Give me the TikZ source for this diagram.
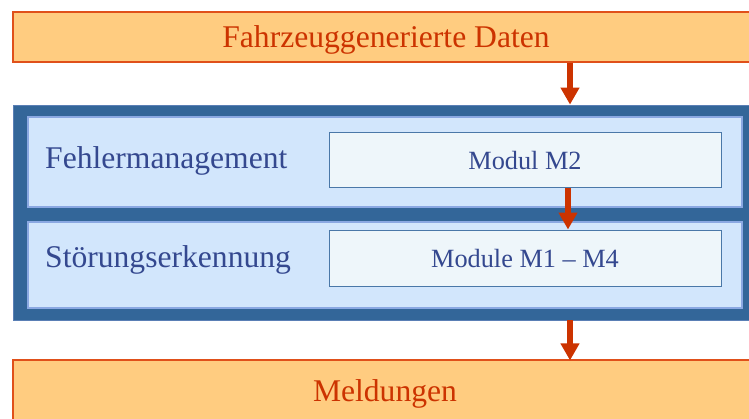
\documentclass[tikz,border=0pt]{standalone}
\usepackage{fontspec}
\setmainfont{Liberation Serif}
\usetikzlibrary{arrows.meta}
\definecolor{bandfill}{HTML}{FFCC80}
\definecolor{bandline}{HTML}{E0501A}
\definecolor{redtext}{HTML}{CC3300}
\definecolor{frameblue}{HTML}{336699}
\definecolor{frameedge}{HTML}{5A7FB5}
\definecolor{panelfill}{HTML}{D2E6FC}
\definecolor{paneledge}{HTML}{8AA8E2}
\definecolor{modfill}{HTML}{EEF6FA}
\definecolor{modedge}{HTML}{4A78A8}
\definecolor{bluetext}{HTML}{34488F}
\tikzset{
  band/.style={draw=bandline, line width=1.2pt, fill=bandfill, inner sep=0pt,
    minimum width=747pt, minimum height=#1},
  bandtext/.style={anchor=base, inner sep=0pt, text=redtext, font=\fontsize{31.6}{32}\selectfont},
  frame/.style={draw=frameedge, line width=0.8pt, fill=frameblue, inner sep=0pt,
    minimum width=747pt, minimum height=215pt},
  panel/.style={draw=paneledge, line width=1.5pt, fill=panelfill, inner sep=0pt,
    minimum width=714pt, minimum height=#1},
  modbox/.style={draw=modedge, line width=1pt, fill=modfill, inner sep=0pt,
    minimum width=392pt, minimum height=#1},
  modtext/.style={anchor=base, inner sep=0pt, text=bluetext, font=\fontsize{26.3}{27}\selectfont},
  layername/.style={anchor=base west, inner sep=0pt, text=bluetext, font=\fontsize{31.6}{32}\selectfont},
  flow/.style={draw=redtext, line width=6pt, -{Triangle[length=17pt,width=18pt]}}
}
\begin{document}
\begin{tikzpicture}[x=1pt, y=-1pt]
  \useasboundingbox (0,0) rectangle (749,418);
  \clip (0,0) rectangle (749,418);
  \fill[white] (0,0) rectangle (749,418);

  % input band
  \node[band=50pt] (input) at (386.5,37) {};
  \node[bandtext] (inlabel) at (386,47) {Fahrzeuggenerierte Daten};

  % processing frame with its two layers
  \node[frame] (frame) at (386.5,212.5) {};
  \node[panel=90pt] (fm) at (385,162) {};
  \node[panel=86pt] (se) at (385,265) {};
  \node[layername] (fmlabel) at (45,168) {Fehlermanagement};
  \node[layername] (selabel) at (45,267) {Störungserkennung};
  \node[modbox=55pt] (m2) at (525,159.5) {};
  \node[modbox=56pt] (m14) at (525,258) {};
  \node[modtext] (m2label) at (525,169) {Modul M2};
  \node[modtext] (m14label) at (525,267) {Module M1 – M4};

  % output band
  \node[band=70pt] (output) at (386.5,395) {};
  \node[bandtext] (outlabel) at (385,401) {Meldungen};

  % data flow
  \draw[flow] (input.south -| 570,0) -- (frame.north -| 570,0);
  \draw[flow] (m2.south -| 568,0) -- (m14.north -| 568,0);
  \draw[flow] (frame.south -| 570,0) -- ([yshift=-1pt]output.north -| 570,0);
\end{tikzpicture}
\end{document}
